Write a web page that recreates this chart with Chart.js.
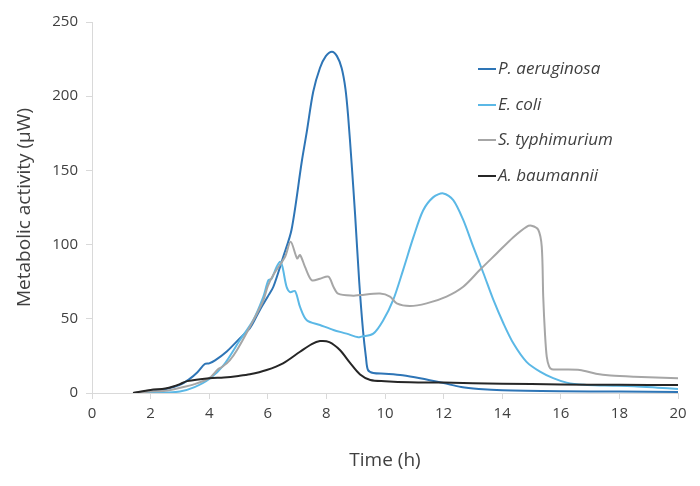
<!DOCTYPE html>
<html>
<head>
<meta charset="utf-8">
<script src="https://cdn.jsdelivr.net/npm/chart.js@4"></script>
<style>
html,body{margin:0;padding:0;background:#fff;}
#wrap{width:700px;height:486px;position:relative;}
</style>
</head>
<body>
<div id="wrap"><canvas id="c" width="700" height="486"></canvas></div>
<script>
const seriesNames = ["P. aeruginosa", "E. coli", "S. typhimurium", "A. baumannii"];
const seriesColors = ["#2e75b6", "#5bb8e6", "#a6a6a6", "#262626"];

const xTicks = [0,2,4,6,8,10,12,14,16,18,20];
const yTicks = [0,50,100,150,200,250];

const paeTime = [1.4,2.0,2.5,3.0,3.3,3.6,3.85,4.0,4.2,4.6,5.05,5.4,5.73,6.0,6.19,6.53,6.81,7.16,7.33,7.55,7.78,7.98,8.19,8.36,8.52,8.65,8.74,8.86,8.98,9.12,9.25,9.35,9.42,9.6,10.0,10.6,11.2,12.0,12.6,13.2,14.0,16.0,18.0,20.0];
const paeValue = [0,0.8,2.5,5.5,9,14,19.5,20,22,28,37,44,56,65,71.6,92,110,156,176,203,219,227,230,227,219,205,187,155,120,75,42,24,15.5,13.5,13,12,10,6.7,4,2.7,1.8,1.2,1,0.7];

const ecoTime = [1.4,2.0,2.5,3.0,3.5,4.0,4.5,5.05,5.5,5.85,6.02,6.13,6.3,6.42,6.5,6.64,6.76,6.93,7.1,7.33,7.78,8.24,8.69,9.09,9.2,9.6,9.94,10.28,10.62,10.97,11.3,11.65,11.99,12.33,12.67,13.01,13.36,13.7,14.04,14.38,14.83,15.29,15.74,16.2,16.8,17.5,18.5,19.3,20.0];
const ecoValue = [0,0,0.3,1,4,9.4,19,35.7,49,65,76,77,85,88.5,85,71.6,68,68.7,58,49,45.8,42.5,40,37.5,38,40,49,62.7,83,105,123,132,134.5,130,116.6,98.6,80.7,62.7,47,33.5,21,14.4,10,7,5.5,5,4.5,3.6,2.7];

const styTime = [1.4,2.0,2.5,3.0,3.5,4.0,4.3,4.45,4.7,4.95,5.4,5.84,6.0,6.2,6.59,6.78,7.0,7.1,7.27,7.5,7.78,8.07,8.24,8.4,8.92,9.15,9.83,10.17,10.4,10.85,11.42,12.1,12.67,13.24,13.81,14.38,14.83,15.0,15.23,15.35,15.4,15.46,15.52,15.6,15.69,16.0,16.65,17.2,17.7,18.5,20.0];
const styValue = [0,1,1.5,3.5,6,10,16,17.7,22,29,45,62,72,80,91.8,102,90.7,93,85,76,77,78.4,71.6,67,65.6,66,67,65,60.4,58.6,60.4,65,71.6,83,94,105,112,112.7,110,98.6,65,40,24.5,18,16,15.8,15.5,13,11.8,11,10];

const abaTime = [1.4,2.0,2.5,2.8,3.0,3.25,4.0,4.5,5.0,5.39,5.96,6.52,7.1,7.5,7.78,8.1,8.46,8.8,9.15,9.5,10.0,10.85,12.0,14.0,16.0,18.0,20.0];
const abaValue = [0,2,3,4.5,6,8,10,10.5,11.5,12.6,15.5,20,27.8,33,35,34.3,29,20.5,12.5,8.8,8,7.3,7,6.3,5.8,5.5,5.4];

function pts(t, v){ return t.map((x,i)=>({x:x, y:v[i]})); }
const allTimes = [paeTime, ecoTime, styTime, abaTime];
const allValues = [paeValue, ecoValue, styValue, abaValue];

const FONT = "'Open Sans', 'Noto Sans', sans-serif";

const legendPlugin = {
  id: 'customLegend',
  afterDraw(chart){
    const ctx = chart.ctx;
    ctx.save();
    const x0 = 478, x1 = 496, tx = 498;
    const ys = [69, 105, 140, 176];
    seriesNames.forEach((name,i)=>{
      ctx.strokeStyle = seriesColors[i];
      ctx.lineWidth = 2;
      ctx.beginPath(); ctx.moveTo(x0, ys[i]); ctx.lineTo(x1, ys[i]); ctx.stroke();
      ctx.fillStyle = '#404040';
      ctx.font = "italic 17px " + FONT;
      ctx.textBaseline = 'middle';
      ctx.textAlign = 'left';
      ctx.fillText(name, tx, ys[i]);
    });
    ctx.restore();
  }
};

new Chart(document.getElementById('c'), {
  type: 'line',
  data: {
    datasets: seriesNames.map((n,i)=>({
      label: n,
      data: pts(allTimes[i], allValues[i]),
      borderColor: seriesColors[i],
      backgroundColor: seriesColors[i],
      borderWidth: 2,
      pointRadius: 0,
      fill: false,
      tension: 0.3
    })).reverse()
  },
  options: {
    responsive: false,
    animation: false,
    devicePixelRatio: 1,
    layout: { padding: { top: 22, right: 22, left: 0, bottom: 0 } },
    plugins: { legend: { display: false }, tooltip: { enabled: false } },
    scales: {
      x: {
        type: 'linear', min: 0, max: 20,
        afterBuildTicks: (s)=>{ s.ticks = xTicks.map(v=>({value:v})); },
        afterFit: (s)=>{ s.height = 93; },
        grid: { display: true, drawOnChartArea: false, drawTicks: true, tickLength: 6, color: '#d9d9d9' },
        border: { display: true, color: '#d9d9d9', width: 1 },
        ticks: { color: '#404040', font: { size: 15, family: FONT }, padding: 6, maxRotation: 0 },
        title: { display: true, text: 'Time (h)', color: '#404040', font: { size: 19, family: FONT }, padding: { top: 0, bottom: 14 } }
      },
      y: {
        min: 0, max: 250,
        afterBuildTicks: (s)=>{ s.ticks = yTicks.map(v=>({value:v})); },
        afterFit: (s)=>{ s.width = 92; },
        grid: { display: true, drawOnChartArea: false, drawTicks: true, tickLength: 6, color: '#d9d9d9' },
        border: { display: true, color: '#d9d9d9', width: 1 },
        ticks: { color: '#404040', font: { size: 15, family: FONT }, padding: 8 },
        title: { display: true, text: 'Metabolic activity (µW)', color: '#404040', font: { size: 19, family: FONT }, padding: { top: 13, bottom: 0 } }
      }
    }
  },
  plugins: [legendPlugin]
});
</script>
</body>
</html>
